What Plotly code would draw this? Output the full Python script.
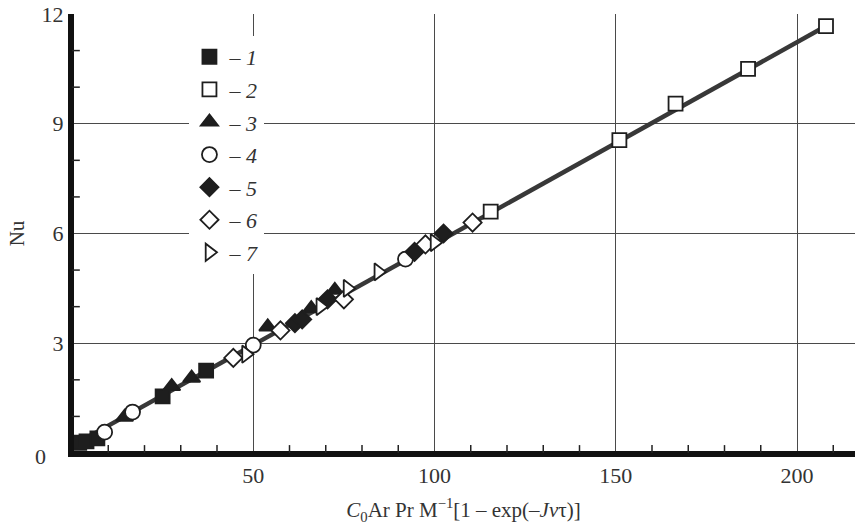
import plotly.graph_objects as go

# ---- data ----
s1_x = [2, 4, 7, 25, 37]
s1_y = [0.28, 0.32, 0.40, 1.55, 2.25]
s2_x = [115.5, 151, 166.5, 186.5, 208]
s2_y = [6.6, 8.55, 9.55, 10.5, 11.67]
s3_x = [14.5, 27.5, 33, 54, 66, 72.5]
s3_y = [0.98, 1.82, 2.05, 3.45, 3.95, 4.45]
s4_x = [9, 16.7, 50, 92]
s4_y = [0.57, 1.12, 2.95, 5.3]
s5_x = [61.5, 63.5, 70.5, 94.5, 102.5]
s5_y = [3.55, 3.65, 4.2, 5.5, 6.0]
s6_x = [44.5, 57.5, 75, 97.5, 110.5]
s6_y = [2.6, 3.35, 4.2, 5.7, 6.3]
s7_x = [48, 68.5, 76, 84.5, 100]
s7_y = [2.7, 4.0, 4.5, 4.95, 5.75]
fit_x = [1, 208]
fit_y = [0.25, 11.67]

labels = ["1", "2", "3", "4", "5", "6", "7"]
x_minor = [10, 20, 30, 40, 60, 70, 80, 90, 110, 120, 130, 140, 160, 170, 180, 190, 210]
y_minor = [1, 2, 4, 5, 7, 8, 10, 11]

INK = "#1e1e1e"
SERIF = "Liberation Serif"

series = [
    (s1_x, s1_y, "square", INK, 14),
    (s2_x, s2_y, "square", "white", 14),
    (s3_x, s3_y, "triangle-up", INK, 15),
    (s4_x, s4_y, "circle", "white", 15),
    (s5_x, s5_y, "diamond", INK, 14),
    (s6_x, s6_y, "diamond", "white", 14),
    (s7_x, s7_y, "triangle-right", "white", 15),
]

fig = go.Figure()
fig.add_trace(go.Scatter(x=fit_x, y=fit_y, mode="lines",
                         line=dict(color="#383838", width=4.5),
                         showlegend=False, hoverinfo="skip"))
for i, (xs, ys, sym, fill, size) in enumerate(series):
    fig.add_trace(go.Scatter(
        x=xs, y=ys, mode="markers",
        name="\u2013 <i>" + labels[i] + "</i>",
        legendgroup="g" + labels[i],
        marker=dict(symbol=sym, size=size, color=fill,
                    line=dict(color=INK, width=1.8)),
    ))

axis_common = dict(
    showgrid=True, gridcolor="#4a4a4a", gridwidth=1.3,
    showline=True, linecolor="#111", linewidth=4,
    zeroline=False, ticks="",
    tickfont=dict(family=SERIF, size=22, color="#333"),
)

fig.update_layout(
    template="none",
    width=855, height=531,
    margin=dict(l=72, r=0, t=14, b=78),
    paper_bgcolor="white", plot_bgcolor="white",
    font=dict(family=SERIF, size=22, color="#222"),
    showlegend=True,
    legend=dict(x=0.15, y=0.95, xanchor="left", yanchor="top",
                bgcolor="white", borderwidth=0,
                font=dict(family=SERIF, size=22, color="#333"),
                traceorder="grouped", tracegroupgap=1,
                itemwidth=30),
)
fig.update_xaxes(range=[0, 216], tickmode="array", tickvals=[50, 100, 150, 200],
                 title=dict(text="<i>C</i><sub>0</sub>Ar Pr M<sup>\u22121</sup>[1 \u2013 exp(\u2013<i>J\u03bd</i>\u03c4)]",
                            font=dict(family=SERIF, size=21, color="#333"), standoff=16),
                 **axis_common)
fig.update_yaxes(range=[0, 12], tickmode="array", tickvals=[3, 6, 9, 12],
                 title=dict(text="Nu", font=dict(family=SERIF, size=21, color="#333"),
                            standoff=12),
                 **axis_common)

# axis frame lines and minor inward ticks
fig.add_shape(type="line", xref="paper", yref="paper", x0=0, x1=0, y0=-0.005, y1=1,
              line=dict(color="#111", width=4), layer="above")
fig.add_shape(type="line", xref="paper", yref="paper", x0=-0.003, x1=1, y0=0, y1=0,
              line=dict(color="#111", width=4), layer="above")
for v in x_minor:
    fig.add_shape(type="line", xref="x", yref="paper", x0=v, x1=v, y0=0, y1=0.018,
                  line=dict(color="#222", width=1.5), layer="above")
for v in y_minor:
    fig.add_shape(type="line", xref="paper", yref="y", x0=0, x1=0.010, y0=v, y1=v,
                  line=dict(color="#222", width=1.5), layer="above")

fig.add_annotation(x=-0.05, y=-0.04, xref="paper", yref="paper",
                   text="0", showarrow=False,
                   font=dict(family=SERIF, size=22, color="#333"))

fig.write_html("out.html")
